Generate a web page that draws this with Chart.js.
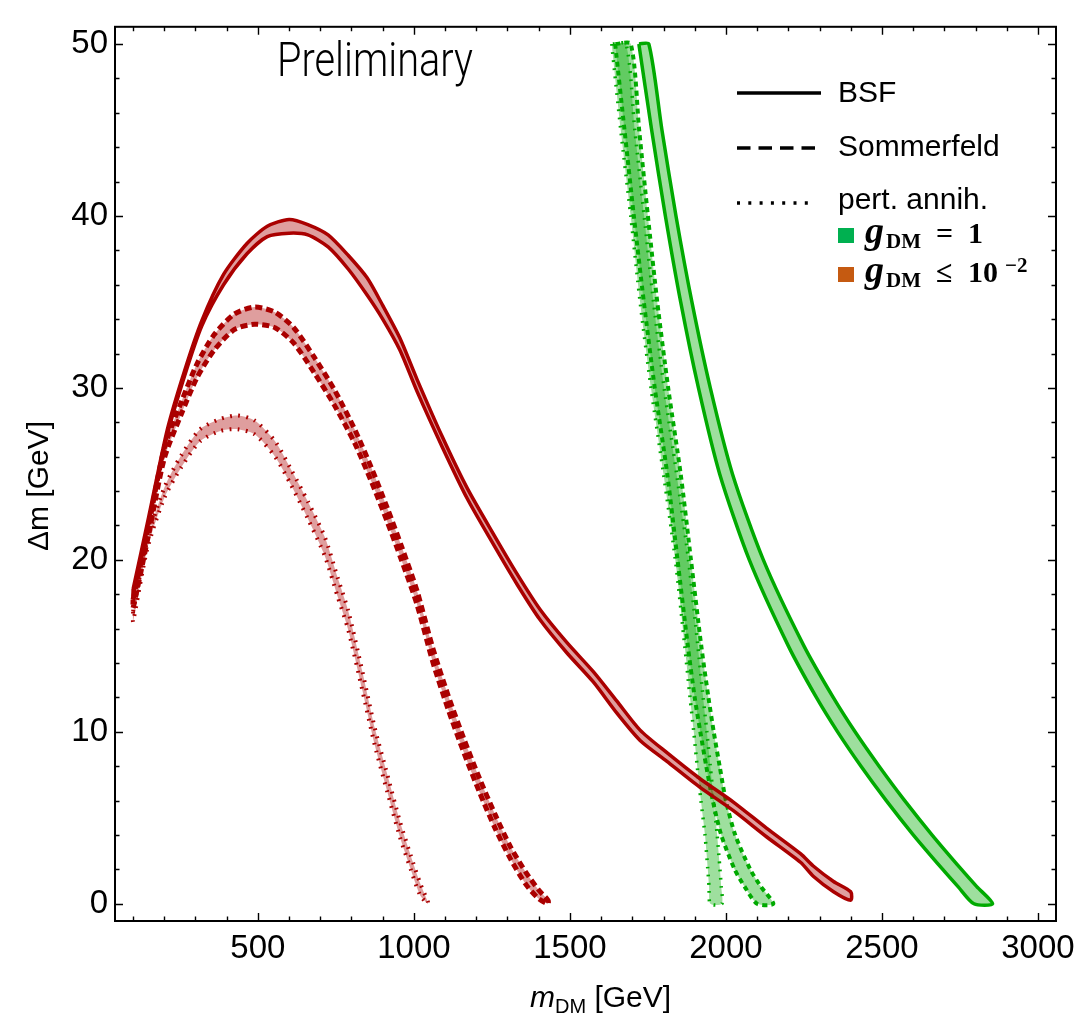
<!DOCTYPE html>
<html>
<head>
<meta charset="utf-8">
<script src="https://cdn.jsdelivr.net/npm/chart.js@4.4.1/dist/chart.umd.min.js"></script>
<style>
  html, body { margin: 0; padding: 0; background: #fff; }
  #wrap { width: 1084px; height: 1018px; position: relative; }
</style>
</head>
<body>
<div id="wrap"><canvas id="chart"></canvas></div>
<script>
// Bandas de relic density · Δm vs m_DM

// g_DM <= 1e-2 (vermelho): amostrado em m_DM, borda superior e inferior
const bsfRedX = [100, 150, 210, 265, 320, 390, 465, 530, 600, 660, 725, 790, 850, 900, 955, 1010, 1090, 1170, 1255, 1330, 1405, 1490, 1575, 1650, 1725, 1810, 1915, 2025, 2130, 2240, 2280, 2345, 2400];
const bsfRedUpper = [18.3, 22.5, 27.6, 31.0, 33.9, 36.6, 38.4, 39.4, 39.8, 39.5, 38.9, 37.7, 36.4, 34.8, 32.9, 30.5, 27.2, 24.2, 21.5, 19.2, 17.1, 15.2, 13.5, 11.8, 10.1, 8.8, 7.3, 5.9, 4.4, 2.9, 2.2, 1.3, 0.7];
const bsfRedLower = [17.9, 22.2, 27.3, 30.7, 33.6, 36.0, 37.8, 38.8, 39.0, 38.9, 38.2, 36.9, 35.4, 34.0, 32.2, 29.8, 26.6, 23.6, 20.9, 18.6, 16.5, 14.6, 12.9, 11.1, 9.5, 8.3, 6.8, 5.4, 3.9, 2.4, 1.6, 0.7, 0.2];

const somRedX = [100, 150, 200, 255, 305, 360, 425, 490, 555, 615, 680, 745, 810, 865, 915, 960, 1010, 1060, 1110, 1160, 1210, 1260, 1310, 1360, 1400, 1430];
const somRedUpper = [17.7, 22.0, 26.5, 29.2, 31.4, 33.1, 34.3, 34.7, 34.4, 33.5, 31.8, 29.9, 27.6, 25.3, 23.0, 20.8, 18.2, 14.9, 12.1, 9.6, 7.3, 5.2, 3.3, 1.8, 0.8, 0.2];
const somRedLower = [17.2, 21.5, 25.9, 28.5, 30.6, 32.2, 33.4, 33.7, 33.5, 32.6, 30.9, 29.0, 26.8, 24.5, 22.2, 20.0, 17.4, 14.1, 11.3, 8.8, 6.5, 4.4, 2.6, 1.1, 0.3, 0.0];

const pertRedX = [100, 145, 200, 255, 315, 380, 435, 490, 555, 605, 660, 715, 755, 790, 835, 875, 915, 955, 990, 1020, 1045];
const pertRedUpper = [17.0, 21.1, 24.2, 26.1, 27.6, 28.2, 28.4, 28.1, 26.9, 25.3, 23.4, 21.3, 19.0, 17.0, 13.5, 10.2, 7.5, 4.8, 2.8, 1.2, 0.1];
const pertRedLower = [16.4, 20.6, 23.6, 25.4, 26.9, 27.5, 27.6, 27.3, 26.0, 24.4, 22.4, 20.2, 17.9, 15.9, 12.4, 9.2, 6.5, 3.9, 2.0, 0.5, 0.0];

// g_DM = 1 (verde): amostrado em Δm, borda esquerda e direita
const greenY = [50, 45, 40, 35, 30, 25, 20, 15, 12, 10, 8, 6, 4, 2, 1, 0];
const bsfGreenLeft = [1721, 1762, 1806, 1855, 1912, 1980, 2075, 2200, 2290, 2358, 2433, 2514, 2601, 2695, 2744, 2795];
const bsfGreenRight = [1753, 1795, 1840, 1891, 1950, 2021, 2120, 2250, 2344, 2414, 2491, 2573, 2661, 2755, 2804, 2855];
const somGreenLeft = [1645, 1675, 1705, 1737, 1772, 1812, 1845, 1878, 1900, 1918, 1937, 1958, 1985, 2028, 2060, 2100];
const somGreenRight = [1695, 1722, 1750, 1780, 1815, 1855, 1888, 1921, 1944, 1961, 1980, 2000, 2030, 2078, 2112, 2152];
const pertGreenLeft = [1634, 1663, 1695, 1725, 1760, 1800, 1838, 1868, 1885, 1897, 1908, 1920, 1933, 1942, 1946, 1950];
const pertGreenRight = [1680, 1708, 1738, 1768, 1802, 1842, 1880, 1910, 1927, 1939, 1950, 1961, 1972, 1981, 1985, 1987];

const xTickValues = [500, 1000, 1500, 2000, 2500, 3000];
const yTickValues = [0, 10, 20, 30, 40, 50];

const RED = '#aa0000';
const RED_FILL = 'rgba(170, 0, 0, 0.38)';
const GREEN = '#00aa00';
const GREEN_FILL = 'rgba(0, 170, 0, 0.38)';
const SOLID = [];
const DASHED = [7, 4];
const DOTTED = [1.8, 6.4];

const AXIS_FONT = '"Liberation Sans", Arial, sans-serif';
const MATH_FONT = '"Liberation Serif", "Times New Roman", serif';

// polígono fechado: borda de cima indo, borda de baixo voltando
function bandByX(xs, upper, lower) {
  const pts = xs.map((x, i) => ({ x, y: upper[i] }));
  for (let i = xs.length - 1; i >= 0; i--) pts.push({ x: xs[i], y: lower[i] });
  pts.push(pts[0]);
  return pts;
}

function bandByY(ys, left, right) {
  const pts = ys.map((y, i) => ({ x: left[i], y }));
  for (let i = ys.length - 1; i >= 0; i--) pts.push({ x: right[i], y: ys[i] });
  pts.push(pts[0]);
  return pts;
}

function band(label, data, color, fill, dash, width) {
  return {
    label,
    data,
    borderColor: color,
    backgroundColor: fill,
    borderWidth: width,
    borderDash: dash,
    borderJoinStyle: 'round',
    fill: 'shape',
    pointRadius: 0,
    tension: 0.25,
  };
}

// ticks para dentro nos quatro lados + moldura
const frameTicks = {
  id: 'frameTicks',
  afterDatasetsDraw(chart) {
    const { ctx, chartArea: a, scales: { x, y } } = chart;
    ctx.save();
    ctx.strokeStyle = '#000';
    ctx.lineWidth = 1.4;
    ctx.beginPath();
    for (let v = 100; v <= 3000; v += 100) {
      const px = Math.round(x.getPixelForValue(v)) + 0.5;
      const len = xTickValues.includes(v) ? 8 : 4.5;
      ctx.moveTo(px, a.bottom); ctx.lineTo(px, a.bottom - len);
      ctx.moveTo(px, a.top); ctx.lineTo(px, a.top + len);
    }
    for (let v = 0; v <= 50; v += 2) {
      const py = Math.round(y.getPixelForValue(v)) + 0.5;
      const len = yTickValues.includes(v) ? 8 : 4.5;
      ctx.moveTo(a.left, py); ctx.lineTo(a.left + len, py);
      ctx.moveTo(a.right, py); ctx.lineTo(a.right - len, py);
    }
    ctx.stroke();
    ctx.lineWidth = 2;
    ctx.strokeRect(a.left, a.top, a.width, a.height);
    ctx.restore();
  },
};

// legenda, "Preliminary" e títulos dos eixos
const annotations = {
  id: 'annotations',
  afterDraw(chart) {
    const { ctx } = chart;
    ctx.save();
    ctx.fillStyle = '#000';

    // texto estreito: fonte normal comprimida na horizontal
    ctx.save();
    ctx.font = '300 48px Roboto, "Liberation Sans", sans-serif';
    ctx.textAlign = 'center';
    ctx.textBaseline = 'alphabetic';
    const pw = ctx.measureText('Preliminary').width;
    ctx.translate(375, 76);
    ctx.scale(196 / pw, 1);
    ctx.fillText('Preliminary', 0, 0);
    ctx.restore();

    // amostras de linha
    const samples = [
      { y: 93, dash: SOLID, label: 'BSF', base: 102, end: 821 },
      { y: 148, dash: [13.5, 8], label: 'Sommerfeld', base: 156, end: 816 },
      { y: 203, dash: [3, 8.3], label: 'pert. annih.', base: 209, end: 816 },
    ];
    ctx.strokeStyle = '#000';
    ctx.lineWidth = 3.5;
    ctx.textAlign = 'left';
    ctx.textBaseline = 'alphabetic';
    ctx.font = '30px ' + AXIS_FONT;
    samples.forEach((s) => {
      ctx.setLineDash(s.dash);
      ctx.beginPath();
      ctx.moveTo(737, s.y);
      ctx.lineTo(s.end, s.y);
      ctx.stroke();
      ctx.fillText(s.label, 838, s.base);
    });
    ctx.setLineDash([]);

    // quadrados de cor
    ctx.fillStyle = '#00b050';
    ctx.fillRect(838, 228, 16, 15);
    ctx.fillStyle = '#c55a11';
    ctx.fillRect(838, 267, 16, 15);

    ctx.fillStyle = '#000';
    const gdm = (base) => {
      ctx.font = 'italic bold 38px ' + MATH_FONT;
      ctx.fillText('g', 865, base);
      const gx = 865 + ctx.measureText('g').width + 2;
      ctx.font = 'bold 21px ' + MATH_FONT;
      ctx.fillText('DM', gx, base + 5);
    };
    gdm(243);
    ctx.font = 'bold 30px ' + MATH_FONT;
    ctx.fillText('=', 936, 243);
    ctx.fillText('1', 968, 243);

    gdm(282);
    ctx.font = 'bold 30px ' + MATH_FONT;
    ctx.fillText('\u2264', 936, 282);
    ctx.fillText('10', 968, 282);
    ctx.font = 'bold 21px ' + MATH_FONT;
    ctx.fillText('\u22122', 1005, 272);

    // título do eixo x: m_DM [GeV]
    ctx.font = 'italic 30px ' + AXIS_FONT;
    let tx = 530;
    ctx.fillText('m', tx, 1007);
    tx += ctx.measureText('m').width;
    ctx.font = '20px ' + AXIS_FONT;
    ctx.fillText('DM', tx, 1013);
    tx += ctx.measureText('DM').width;
    ctx.font = '30px ' + AXIS_FONT;
    ctx.fillText(' [GeV]', tx, 1007);

    // título do eixo y
    ctx.translate(40, 486);
    ctx.rotate(-Math.PI / 2);
    ctx.textAlign = 'center';
    ctx.textBaseline = 'middle';
    ctx.font = '30px ' + AXIS_FONT;
    ctx.fillText('\u0394m [GeV]', 0, 0);
    ctx.restore();
  },
};

new Chart(document.getElementById('chart').getContext('2d'), {
  type: 'line',
  data: {
    datasets: [
      band('BSF, g_DM ≤ 1e-2', bandByX(bsfRedX, bsfRedUpper, bsfRedLower), RED, RED_FILL, SOLID, 3.5),
      band('Sommerfeld, g_DM ≤ 1e-2', bandByX(somRedX, somRedUpper, somRedLower), RED, RED_FILL, DASHED, 5),
      band('pert. annih., g_DM ≤ 1e-2', bandByX(pertRedX, pertRedUpper, pertRedLower), RED, RED_FILL, DOTTED, 4),
      band('BSF, g_DM = 1', bandByY(greenY, bsfGreenLeft, bsfGreenRight), GREEN, GREEN_FILL, SOLID, 3.5),
      band('Sommerfeld, g_DM = 1', bandByY(greenY, somGreenLeft, somGreenRight), GREEN, GREEN_FILL, [5, 4], 4),
      band('pert. annih., g_DM = 1', bandByY(greenY, pertGreenLeft, pertGreenRight), GREEN, GREEN_FILL, DOTTED, 3.5),
    ],
  },
  options: {
    responsive: true,
    maintainAspectRatio: false,
    animation: false,
    events: [],
    layout: { padding: { top: 10, right: 28, left: 0, bottom: 0 } },
    plugins: {
      legend: { display: false },
      tooltip: { enabled: false },
      title: { display: false },
    },
    scales: {
      x: {
        type: 'linear',
        min: 42,
        max: 3058,
        afterBuildTicks: (s) => { s.ticks = xTickValues.map((v) => ({ value: v })); },
        afterFit: (s) => { s.height = 97; },
        grid: { display: false, drawTicks: false },
        border: { display: false },
        ticks: {
          color: '#000',
          padding: 8,
          maxRotation: 0,
          autoSkip: false,
          font: { family: AXIS_FONT, size: 33 },
          callback: (v) => String(v),
        },
      },
      y: {
        type: 'linear',
        min: -1,
        max: 51,
        afterBuildTicks: (s) => { s.ticks = yTickValues.map((v) => ({ value: v })); },
        afterFit: (s) => { s.width = 115; },
        grid: { display: false, drawTicks: false },
        border: { display: false },
        ticks: {
          color: '#000',
          padding: 7,
          autoSkip: false,
          font: { family: AXIS_FONT, size: 33 },
          callback: (v) => String(v),
        },
      },
    },
  },
  plugins: [frameTicks, annotations],
});
</script>
</body>
</html>
